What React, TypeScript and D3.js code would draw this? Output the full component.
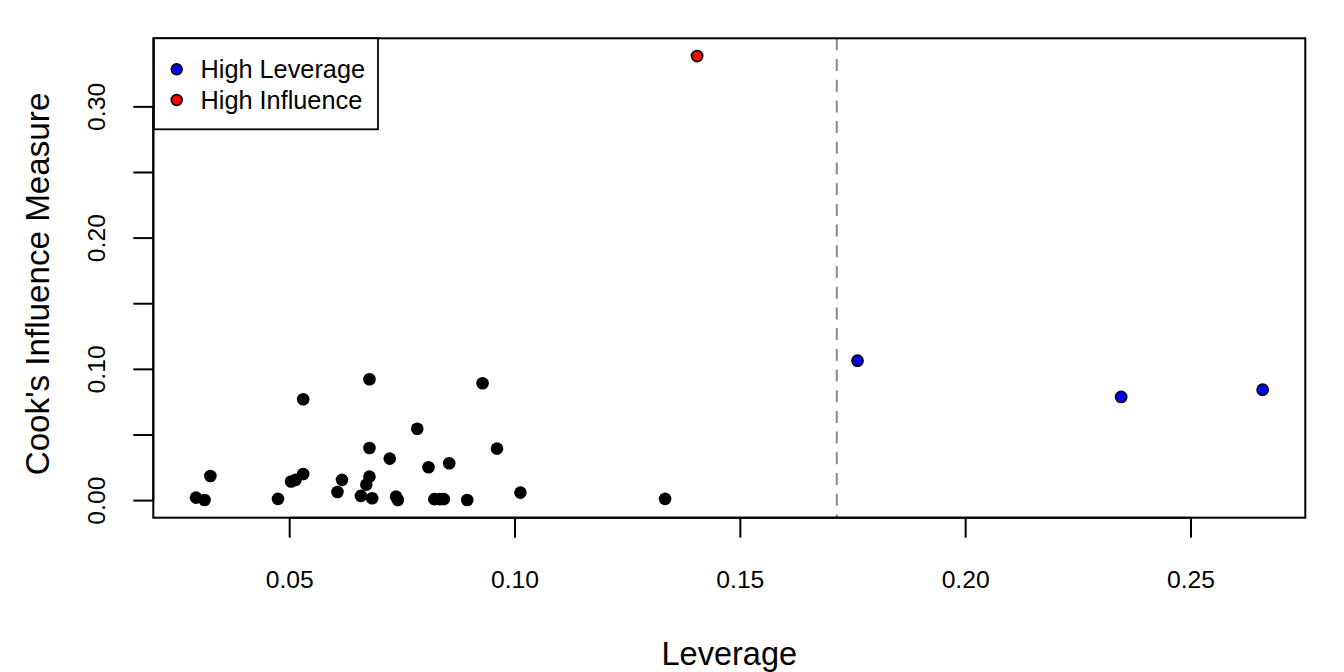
import React from 'react';
import * as d3 from 'd3';

const normalLeverage = [
  0.0292, 0.0311, 0.0324, 0.0474, 0.0503, 0.0513, 0.053, 0.053, 0.0606, 0.0616,
  0.0658, 0.067, 0.0677, 0.0683, 0.0677, 0.0677, 0.0722, 0.0736, 0.074, 0.0783,
  0.0808, 0.0821, 0.0833, 0.0842, 0.0854, 0.0894, 0.0928, 0.096, 0.1012, 0.1333,
];
const normalCooks = [
  0.0023, 0.0005, 0.0188, 0.0013, 0.0145, 0.0158, 0.0203, 0.0772, 0.0066, 0.0158,
  0.0036, 0.0122, 0.0183, 0.0018, 0.0401, 0.0925, 0.032, 0.003, 0.0005, 0.0548,
  0.0254, 0.0011, 0.0011, 0.0011, 0.0285, 0.0005, 0.0894, 0.0396, 0.0061, 0.0013,
];
const highLeverageLev = [0.176, 0.2345, 0.2659];
const highLeverageCooks = [0.1066, 0.079, 0.0845];
const highInfluenceLev = [0.1404];
const highInfluenceCooks = [0.3387];
const leverageCutoff = 0.1714;

const xTicks = [0.05, 0.1, 0.15, 0.2, 0.25];
const yTicks = [0, 0.05, 0.1, 0.15, 0.2, 0.25, 0.3];
const yLabelled = [0, 0.1, 0.2, 0.3];
const legendLabels = ['High Leverage', 'High Influence'];
const legendColors = ['#0000ff', '#ff0000'];

const W = 1344;
const H = 672;
const box = {left: 153.3, right: 1305.3, top: 38.3, bottom: 517.7};
const font = '"Liberation Sans", Arial, Helvetica, sans-serif';

// R style 4% padding around the data range
function padded(vals: number[]): [number, number] {
  const [lo, hi] = d3.extent(vals) as [number, number];
  const r = hi - lo;
  return [lo - 0.04 * r, hi + 0.04 * r];
}

export default function App() {
  const allX = [...normalLeverage, ...highLeverageLev, ...highInfluenceLev];
  const allY = [...normalCooks, ...highLeverageCooks, ...highInfluenceCooks];
  const x = d3.scaleLinear().domain(padded(allX)).range([box.left, box.right]);
  const y = d3.scaleLinear().domain(padded(allY)).range([box.bottom, box.top]);

  const tickLen = 20;

  return (
    <svg
      width={W}
      height={H}
      style={{position: 'absolute', left: 0, top: 0, background: '#fff'}}
      fontFamily={font}
    >
      {/* leverage cutoff */}
      <line
        x1={x(leverageCutoff)}
        x2={x(leverageCutoff)}
        y1={box.top}
        y2={box.bottom}
        stroke="#8a8a8a"
        strokeWidth={2}
        strokeDasharray="12,8.7"
      />

      {/* ordinary points */}
      {normalLeverage.map((d, i) => (
        <circle key={'n' + i} cx={x(d)} cy={y(normalCooks[i])} r={6.3} fill="#000" />
      ))}
      {highLeverageLev.map((d, i) => (
        <circle
          key={'l' + i}
          cx={x(d)}
          cy={y(highLeverageCooks[i])}
          r={5.6}
          fill={legendColors[0]}
          stroke="#000"
          strokeWidth={1.6}
        />
      ))}
      {highInfluenceLev.map((d, i) => (
        <circle
          key={'h' + i}
          cx={x(d)}
          cy={y(highInfluenceCooks[i])}
          r={5.6}
          fill={legendColors[1]}
          stroke="#000"
          strokeWidth={1.6}
        />
      ))}

      {/* plot box */}
      <rect
        x={box.left}
        y={box.top}
        width={box.right - box.left}
        height={box.bottom - box.top}
        fill="none"
        stroke="#000"
        strokeWidth={2}
      />

      {/* x axis */}
      <line
        x1={x(xTicks[0])}
        x2={x(xTicks[xTicks.length - 1])}
        y1={box.bottom}
        y2={box.bottom}
        stroke="#000"
        strokeWidth={2}
      />
      {xTicks.map((t) => (
        <g key={'xt' + t}>
          <line x1={x(t)} x2={x(t)} y1={box.bottom} y2={box.bottom + tickLen} stroke="#000" strokeWidth={2} />
          <text x={x(t)} y={588} textAnchor="middle" fontSize={24.7} fill="#000">
            {d3.format('.2f')(t)}
          </text>
        </g>
      ))}

      {/* y axis */}
      <line
        x1={box.left}
        x2={box.left}
        y1={y(yTicks[0])}
        y2={y(yTicks[yTicks.length - 1])}
        stroke="#000"
        strokeWidth={2}
      />
      {yTicks.map((t) => (
        <line
          key={'yt' + t}
          x1={box.left - tickLen}
          x2={box.left}
          y1={y(t)}
          y2={y(t)}
          stroke="#000"
          strokeWidth={2}
        />
      ))}
      {yLabelled.map((t) => (
        <text
          key={'yl' + t}
          transform={`translate(105,${y(t)}) rotate(-90)`}
          textAnchor="middle"
          fontSize={24.7}
          fill="#000"
        >
          {d3.format('.2f')(t)}
        </text>
      ))}

      {/* axis titles */}
      <text x={(box.left + box.right) / 2} y={665} textAnchor="middle" fontSize={32.5} fill="#000">
        Leverage
      </text>
      <text
        transform={`translate(49,284) rotate(-90)`}
        textAnchor="middle"
        fontSize={33.2}
        fill="#000"
      >
        Cook's Influence Measure
      </text>

      {/* legend */}
      <rect x={154} y={38.3} width={224} height={91} fill="#fff" stroke="#000" strokeWidth={1.8} />
      {legendLabels.map((lab, i) => (
        <g key={lab}>
          <circle
            cx={176.7}
            cy={69.3 + i * 30.7}
            r={5.4}
            fill={legendColors[i]}
            stroke="#000"
            strokeWidth={1.6}
          />
          <text x={200.5} y={69.3 + i * 30.7} dy="0.35em" fontSize={25.3} fill="#000">
            {lab}
          </text>
        </g>
      ))}
    </svg>
  );
}
